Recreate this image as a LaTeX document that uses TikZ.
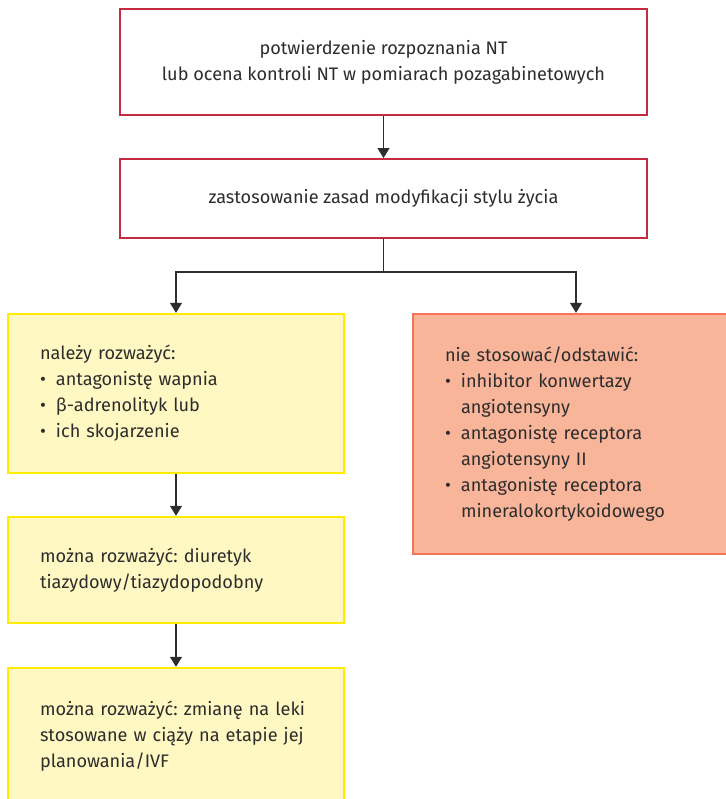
\documentclass[tikz,border=0pt]{standalone}
\usepackage{fontspec}
\setmainfont{Fira Sans}
\usetikzlibrary{positioning,arrows.meta}
\definecolor{txt}{HTML}{2D2D2D}
\definecolor{redframe}{HTML}{C22B40}
\definecolor{yelframe}{HTML}{FFEC00}
\definecolor{yelfill}{HTML}{FFF8C2}
\definecolor{avoidframe}{HTML}{F47457}
\definecolor{avoidfill}{HTML}{F9B59A}
\tikzset{
every node/.style={font=\fontsize{13.6}{19.5}\selectfont\frenchspacing, text=txt},
redbox/.style={draw=redframe, line width=1.5pt, fill=white, align=center, minimum width=395.25pt},
yellowbox/.style={draw=yelframe, fill=yelfill, line width=1.8pt, align=left, text width=204pt, inner xsep=24pt},
avoidbox/.style={draw=avoidframe, fill=avoidfill, line width=1.8pt, align=left, text width=196.5pt, inner xsep=24pt},
link/.style={draw=txt, line width=1pt, -{Triangle[width=9pt,length=7.5pt]}}}
\newcommand{\bitem}{\makebox[12pt][l]{•}}
\newcommand{\bcont}{\hspace*{12pt}}

\begin{document}
\begin{tikzpicture}[x=0.75pt,y=-0.75pt]
    \useasboundingbox (0,0) rectangle (725,799);
    \node[redbox, minimum height=79.5pt] (confirm) at (383.5,62)
        {potwierdzenie rozpoznania NT\\lub ocena kontroli NT w pomiarach pozagabinetowych};
    \node[redbox, minimum height=59.25pt] (lifestyle) at (383.5,198.5)
        {zastosowanie zasad modyfikacji stylu życia};
    \node[yellowbox, minimum height=119.25pt] (consider) at (176,393.5)
        {należy rozważyć:\\\bitem antagonistę wapnia\\\bitem β-adrenolityk lub\\\bitem ich skojarzenie};
    \node[avoidbox, minimum height=180pt] (avoid) at (576,434)
        {nie stosować/odstawić:\\\bitem inhibitor konwertazy\\\bcont angiotensyny\\\bitem antagonistę receptora\\\bcont angiotensyny II\\\bitem antagonistę receptora\\\bcont mineralokortykoidowego};
    \node[yellowbox, minimum height=79.5pt] (diuretic) at (176,570)
        {można rozważyć: diuretyk\\tiazydowy/tiazydopodobny};
    \node[yellowbox, minimum height=102pt] (switch) at (176,736)
        {można rozważyć: zmianę na leki\\stosowane w ciąży na etapie jej\\planowania/IVF};
    \coordinate (split) at (383.5,272);
    \draw[link] (confirm) -- (lifestyle);
    \draw[draw=txt, line width=1pt] (lifestyle) -- (split);
    \draw[link] (split) -| (consider);
    \draw[link] (split) -| (avoid);
    \draw[link] (consider) -- (diuretic);
    \draw[link] (diuretic) -- (switch);
\end{tikzpicture}
\end{document}
